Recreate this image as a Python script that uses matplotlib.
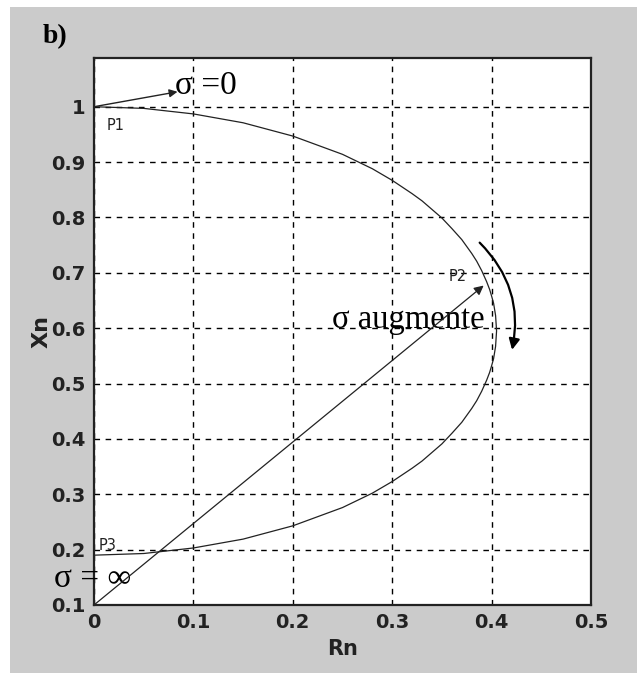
import matplotlib
matplotlib.use("Agg")
import matplotlib.pyplot as plt
from matplotlib.patches import Rectangle, FancyArrowPatch

# lieu de l'impédance
rn_curve = [0.0, 0.05, 0.1, 0.15, 0.2, 0.25, 0.28, 0.3, 0.32, 0.33, 0.35, 0.36, 0.37, 0.38,
            0.385, 0.39, 0.395, 0.398, 0.4, 0.402, 0.404, 0.405,
            0.404, 0.402, 0.4, 0.398, 0.395, 0.39, 0.385, 0.38, 0.37, 0.36, 0.35, 0.33,
            0.32, 0.3, 0.28, 0.25, 0.2, 0.15, 0.1, 0.05, 0.0]
xn_curve = [1.0, 0.997, 0.987, 0.971, 0.947, 0.914, 0.888, 0.867, 0.843, 0.83, 0.799, 0.78, 0.76, 0.735,
            0.721, 0.704, 0.684, 0.670, 0.658, 0.645, 0.623, 0.595,
            0.567, 0.545, 0.532, 0.520, 0.506, 0.486, 0.469, 0.455, 0.43, 0.41, 0.391, 0.36,
            0.347, 0.323, 0.302, 0.276, 0.243, 0.219, 0.203, 0.193, 0.19]

p2 = (0.392, 0.677)          # fin de la droite depuis l'origine
origin = (0.0, 0.1)
sig0_tip = (0.084, 1.027)
xticks = [0, 0.1, 0.2, 0.3, 0.4, 0.5]
yticks = [0.1, 0.2, 0.3, 0.4, 0.5, 0.6, 0.7, 0.8, 0.9, 1]
ytick_lbl = ["0.1", "0.2", "0.3", "0.4", "0.5", "0.6", "0.7", "0.8", "0.9", "1"]

SERIF = ["Liberation Serif", "DejaVu Serif"]

fig = plt.figure(figsize=(6.37, 6.73), dpi=100, facecolor="white")
fig.patches.append(Rectangle((10 / 637, 0), 1, 1 - 7 / 673, transform=fig.transFigure,
                             facecolor="#cbcbcb", edgecolor="none", zorder=-10))
ax = fig.add_axes([94 / 637, 1 - 605 / 673, 497 / 637, 547 / 673])
ax.set_facecolor("white")
ax.set_xlim(0, 0.5)
ax.set_ylim(0.1, 1.088)

ax.set_xticks(xticks)
ax.set_xticklabels(["0", "0.1", "0.2", "0.3", "0.4", "0.5"])
ax.set_yticks(yticks)
ax.set_yticklabels(ytick_lbl)
ax.tick_params(length=0, pad=6, labelsize=14, labelcolor="#222222")
for t in ax.get_xticklabels() + ax.get_yticklabels():
    t.set_fontweight("bold")
ax.grid(True, color="black", linestyle=(0, (4, 4)), linewidth=1.0)
for s in ax.spines.values():
    s.set_linewidth(1.6)
    s.set_color("#222222")

ax.set_xlabel("Rn", fontsize=15, fontweight="bold", labelpad=5, color="#222222")
ax.set_ylabel("Xn", fontsize=16, fontweight="bold", labelpad=0, color="#222222")

ax.plot(rn_curve, xn_curve, color="#222222", lw=0.9, zorder=3)

# droite origine -> P2
ax.annotate("", xy=p2, xytext=origin,
            arrowprops=dict(arrowstyle="-|>", color="#222222", lw=0.9,
                            mutation_scale=14, shrinkA=0, shrinkB=0), zorder=4)
# flèche sigma = 0
ax.annotate("", xy=sig0_tip, xytext=(0.0, 1.0),
            arrowprops=dict(arrowstyle="-|>", color="#222222", lw=1.0,
                            mutation_scale=12, shrinkA=0, shrinkB=0), zorder=4)
# flèche courbe
arc = FancyArrowPatch((0.386, 0.758), (0.42, 0.556), connectionstyle="arc3,rad=-0.28",
                      arrowstyle="-|>", mutation_scale=16, color="black", lw=1.6, zorder=5)
ax.add_patch(arc)

ax.text(0.013, 0.958, "P1", fontsize=10.5, color="#222222")
ax.text(0.357, 0.686, "P2", fontsize=10.5, color="#222222")
ax.text(0.005, 0.199, "P3", fontsize=10.5, color="#222222")

ax.text(0.0815, 1.038, "σ =0", fontsize=24, family=SERIF, va="center", ha="left")
ax.text(0.239, 0.615, "σ augmente", fontsize=23.5, family=SERIF, va="center", ha="left")
ax.text(-0.04, 0.148, "σ = ∞", fontsize=24, family=SERIF, va="center", ha="left", clip_on=False)

fig.text(43 / 637, 1 - 37 / 673, "b)", fontsize=20, fontweight="bold", family=SERIF,
         va="center", ha="left")

fig.savefig("out.png", dpi=100, facecolor=fig.get_facecolor())
